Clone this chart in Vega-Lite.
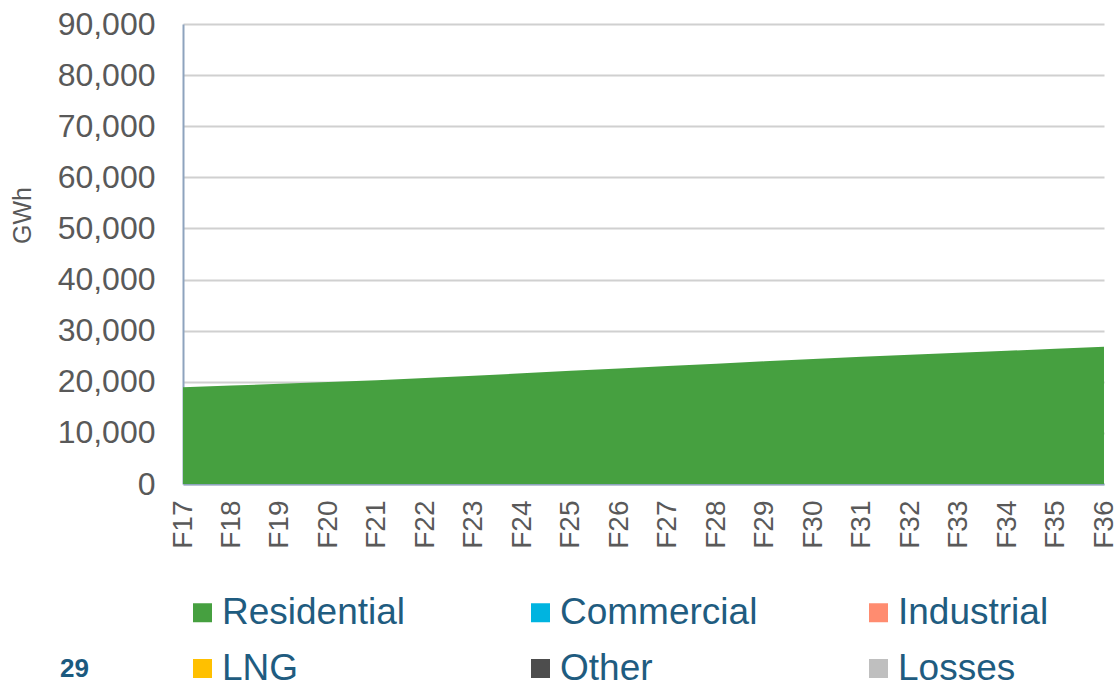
{
  "$schema": "https://vega.github.io/schema/vega-lite/v6.json",
  "width": 921,
  "height": 460,
  "autosize": {"type": "none"},
  "padding": {"left": 183, "top": 24, "right": 11, "bottom": 200},
  "background": "white",
  "title": {
    "text": "29",
    "orient": "bottom",
    "anchor": "start",
    "frame": "group",
    "font": "Liberation Sans",
    "fontSize": 26,
    "fontWeight": "bold",
    "color": "#1B5A7F",
    "baseline": "middle",
    "dx": -123,
    "dy": -22
  },
  "data": {
    "values": [
      {"year": "F17", "series": "Residential", "gwh": 18720},
      {"year": "F18", "series": "Residential", "gwh": 19060},
      {"year": "F19", "series": "Residential", "gwh": 19400},
      {"year": "F20", "series": "Residential", "gwh": 19740},
      {"year": "F21", "series": "Residential", "gwh": 20090},
      {"year": "F22", "series": "Residential", "gwh": 20530},
      {"year": "F23", "series": "Residential", "gwh": 20990},
      {"year": "F24", "series": "Residential", "gwh": 21460},
      {"year": "F25", "series": "Residential", "gwh": 21950},
      {"year": "F26", "series": "Residential", "gwh": 22415},
      {"year": "F27", "series": "Residential", "gwh": 22880},
      {"year": "F28", "series": "Residential", "gwh": 23345},
      {"year": "F29", "series": "Residential", "gwh": 23810},
      {"year": "F30", "series": "Residential", "gwh": 24270},
      {"year": "F31", "series": "Residential", "gwh": 24680},
      {"year": "F32", "series": "Residential", "gwh": 25080},
      {"year": "F33", "series": "Residential", "gwh": 25480},
      {"year": "F34", "series": "Residential", "gwh": 25875},
      {"year": "F35", "series": "Residential", "gwh": 26270},
      {"year": "F36", "series": "Residential", "gwh": 26670}
    ]
  },
  "mark": {
    "type": "area",
    "line": {"color": "#00B050", "strokeWidth": 2},
    "opacity": 1
  },
  "encoding": {
    "x": {
      "field": "year",
      "type": "ordinal",
      "scale": {"type": "point", "padding": 0},
      "axis": {
        "title": null,
        "labelAngle": 270,
        "labelAlign": "right",
        "labelBaseline": "middle",
        "labelFont": "Liberation Sans",
        "labelFontSize": 28,
        "labelColor": "#595959",
        "labelPadding": 16,
        "ticks": false,
        "domainColor": "#8EA3BE",
        "domainWidth": 2,
        "grid": false
      }
    },
    "y": {
      "field": "gwh",
      "type": "quantitative",
      "stack": null,
      "scale": {"domain": [0, 90000], "nice": false},
      "axis": {
        "title": "GWh",
        "titleFont": "Liberation Sans",
        "titleFontSize": 25,
        "titleFontWeight": "normal",
        "titleColor": "#595959",
        "titleAngle": -90,
        "titleAlign": "center",
        "titleBaseline": "middle",
        "titleX": -161,
        "titleY": 191,
        "values": [0, 10000, 20000, 30000, 40000, 50000, 60000, 70000, 80000, 90000],
        "format": ",.0f",
        "labelFont": "Liberation Sans",
        "labelFontSize": 32,
        "labelColor": "#595959",
        "labelPadding": 28,
        "ticks": false,
        "domainColor": "#8EA3BE",
        "domainWidth": 2,
        "grid": true,
        "gridColor": "#D0D0D0",
        "gridWidth": 2
      }
    },
    "color": {
      "field": "series",
      "type": "nominal",
      "scale": {
        "domain": ["Residential", "Commercial", "Industrial", "LNG", "Other", "Losses"],
        "range": ["#46A040", "#00B4E0", "#FF8C70", "#FFC000", "#4D4D4D", "#BFBFBF"]
      },
      "legend": {
        "title": null,
        "orient": "none",
        "legendX": 1,
        "legendY": 570,
        "direction": "horizontal",
        "columns": 3,
        "gridAlign": "all",
        "columnPadding": 102,
        "rowPadding": 18,
        "padding": 0,
        "symbolType": "square",
        "symbolSize": 361,
        "symbolStrokeWidth": 0,
        "symbolOpacity": 1,
        "labelOffset": 1,
        "labelFont": "Liberation Sans",
        "labelFontSize": 37,
        "labelColor": "#1F5C80",
        "labelLimit": 400
      }
    }
  },
  "config": {
    "view": {"stroke": null}
  }
}
